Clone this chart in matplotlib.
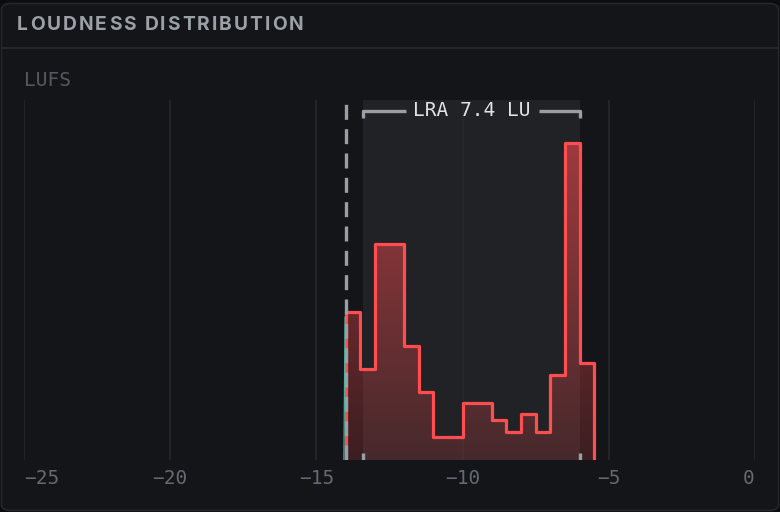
import matplotlib
matplotlib.use("Agg")
import matplotlib.pyplot as plt
import numpy as np
from matplotlib.patches import FancyBboxPatch, Polygon
from matplotlib.font_manager import FontProperties

# ---- data -------------------------------------------------------------
bin_edges = [-14.0, -13.5, -13.0, -12.5, -12.0, -11.5, -11.0, -10.5, -10.0,
             -9.5, -9.0, -8.5, -8.0, -7.5, -7.0, -6.5, -6.0, -5.5]
bin_share = [14.8, 9.1, 21.6, 21.6, 11.4, 6.8, 2.3, 2.3, 5.7,
             5.7, 4.0, 2.8, 4.6, 2.8, 8.5, 31.7, 9.7]
integrated = -14.0
lra_low, lra_high = -13.4, -6.0
lra_value = 7.4
tick_values = [-25, -20, -15, -10, -5, 0]
tick_labels = ["\u221225", "\u221220", "\u221215", "\u221210", "\u22125", "0"]
x_range = (-25, 0)
y_max = 36.0

# ---- colours ----------------------------------------------------------
OUTER = "#0b0c0e"
PANEL = "#131518"
BORDER = "#25272b"
GRID = "#26282c"
LRA_BG = "#212225"
RED = "#ff4d50"
DASH = "#9a9ea5"
TICK_TXT = "#646a72"
TITLE_TXT = "#9ba0a7"

W, H = 780, 512
fig = plt.figure(figsize=(W / 100, H / 100), dpi=100, facecolor=OUTER)


def fx(px):
    return px / W


def fy(py):
    return 1 - py / H


# panel with rounded corners
panel = FancyBboxPatch((fx(1.5), fy(510.5)), fx(777), 507 / H,
                       boxstyle="round,pad=0,rounding_size=0.012",
                       transform=fig.transFigure, facecolor=PANEL,
                       edgecolor=BORDER, linewidth=1.2, zorder=-5)
fig.patches.append(panel)
fig.add_artist(plt.Line2D([fx(2), fx(778)], [fy(47.5), fy(47.5)],
                          color=BORDER, linewidth=1.5, zorder=-4))

# title with letter spacing
renderer = fig.canvas.get_renderer()
title = "LOUDNESS DISTRIBUTION"
tfp = FontProperties(family="Inter", weight="bold", size=13.8)
spacing = 2.0
for i, ch in enumerate(title):
    w, _, _ = renderer.get_text_width_height_descent(title[:i] or " ", tfp, ismath=False)
    off = w if i else 0
    fig.text(fx(17 + off + i * spacing), fy(25), ch, fontproperties=tfp,
             color=TITLE_TXT, va="center", ha="left")

fig.text(fx(24), fy(81), "LUFS", family="DejaVu Sans Mono", size=14,
         color="#555a61", va="center", ha="left")

# ---- plot area --------------------------------------------------------
ax = fig.add_axes([fx(24), fy(460), (755 - 24) / W, 360 / H], zorder=2)
ax.set_facecolor("none")
ax.set_xlim(*x_range)
ax.set_ylim(0, y_max)
for s in ax.spines.values():
    s.set_visible(False)
ax.set_xticks([])
ax.set_yticks([])

ax.axvspan(lra_low, lra_high, color=LRA_BG, zorder=0.5, linewidth=0)
for t in tick_values:
    ax.axvline(t, color=GRID, linewidth=1.2, zorder=1)

# histogram outline
xs = np.repeat(bin_edges, 2)
ys = np.concatenate([[0], np.repeat(bin_share, 2), [0]])
poly = Polygon(np.column_stack([xs, ys]), closed=True, facecolor="none",
               edgecolor="none")
ax.add_patch(poly)
grad = np.linspace(0.17, 0.62, 256).reshape(-1, 1)
rgba = np.zeros((256, 1, 4))
rgba[..., 0] = 1.0
rgba[..., 1] = 0.30
rgba[..., 2] = 0.31
rgba[..., 3] = grad
img = ax.imshow(rgba, extent=[bin_edges[0], bin_edges[-1], 0, y_max],
                origin="lower", aspect="auto", zorder=2, interpolation="bilinear")
img.set_clip_path(poly)
ax.set_xlim(*x_range)
ax.set_ylim(0, y_max)
ax.plot(xs, ys, color=RED, linewidth=2.3, zorder=3, solid_joinstyle="round")

# teal sliver at the left edge
ax.plot([integrated - 0.06, integrated - 0.02], [0, bin_share[0] - 0.5],
        color="#3fd1b8", linewidth=0.9, alpha=0.85, zorder=3.5)

# integrated loudness marker
ax.axvline(integrated, color=DASH, linewidth=2.4, linestyle=(0, (4.5, 2.8)),
           zorder=4)

# LRA bracket, split around the label
trans = ax.get_xaxis_transform()
yb, yt = 0.95, 0.969
lra_txt = ax.text((lra_low + lra_high) / 2, 0.972, f"LRA {lra_value} LU",
                  transform=trans, ha="center", va="center",
                  family="DejaVu Sans Mono", size=14, color="#e2e3e5", zorder=5)
bb = lra_txt.get_window_extent(renderer=renderer)
inv = ax.transData.inverted()
gap_l = inv.transform((bb.x0 - 7, 0))[0]
gap_r = inv.transform((bb.x1 + 9, 0))[0]
ax.plot([lra_low, lra_low, gap_l], [yb, yt, yt], transform=trans, color=DASH,
        linewidth=2.4, zorder=4, solid_capstyle="butt", clip_on=False)
ax.plot([gap_r, lra_high, lra_high], [yt, yt, yb], transform=trans, color=DASH,
        linewidth=2.4, zorder=4, solid_capstyle="butt", clip_on=False)
for xv in (lra_low, lra_high):
    ax.plot([xv, xv], [0, 0.02], transform=trans, color=DASH, linewidth=2.4,
            zorder=4, solid_capstyle="butt")

# tick labels
for i, (t, lab) in enumerate(zip(tick_values, tick_labels)):
    ha = "left" if i == 0 else ("right" if i == len(tick_values) - 1 else "center")
    ax.text(t, -0.052, lab, transform=trans, ha=ha, va="center",
            family="DejaVu Sans Mono", size=14, color=TICK_TXT, clip_on=False)

fig.savefig("out.png", dpi=100, facecolor=OUTER)
